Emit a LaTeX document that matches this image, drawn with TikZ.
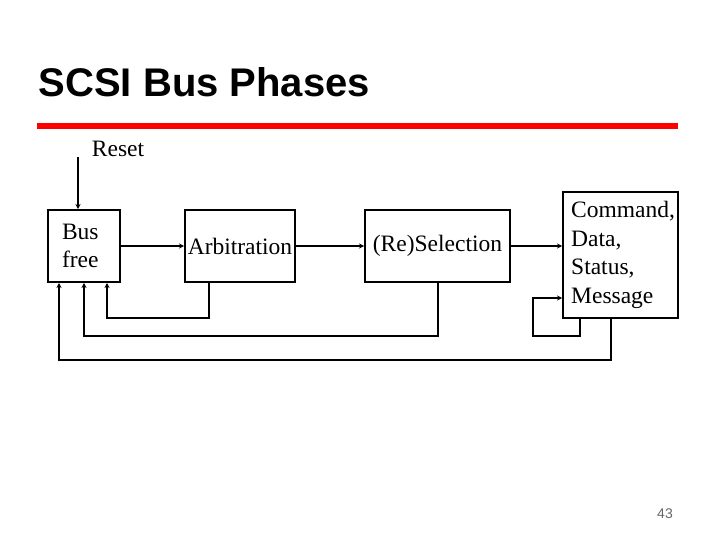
\documentclass[tikz,border=0pt]{standalone}
\usepackage{fontspec}
\setmainfont{Liberation Serif}
\newfontfamily\titlefont{Liberation Sans}
\usetikzlibrary{arrows.meta}
\tikzset{
  phase/.style={draw, line width=2pt, inner sep=0pt, font=\fontsize{23.5}{28.5}\selectfont},
  conn/.style={line width=2pt, -{Stealth[length=5pt,width=5pt]}},
  lbl/.style={inner sep=0pt, font=\fontsize{23.5}{28.5}\selectfont, align=left}
}
\begin{document}
\begin{tikzpicture}[x=1pt,y=-1pt]
\useasboundingbox (0,0) rectangle (720,540);
% title
\node[anchor=base west, inner sep=0pt, font=\titlefont\bfseries\fontsize{40}{44}\selectfont] (title) at (38.5,97) {SCSI Bus Phases};
\fill[red] (37,123) rectangle (678,129);
% boxes
\node[phase, minimum width=72, minimum height=72, text width=44, align=left, inner xsep=14] (bus) at (84,246) {Bus\\free};
\node[phase, minimum width=110, minimum height=72] (arb) at (240,246) {Arbitration};
\node[phase, minimum width=145, minimum height=72] (sel) at (437.5,246) {(Re)Selection};
\node[phase, minimum width=115, minimum height=126] (cmd) at (620.5,255) {};
\node[lbl, anchor=west] (cmdtext) at (571,255) {Command,\\Data,\\Status,\\Message};
% reset
\node[lbl, anchor=base] (reset) at (118,157) {Reset};
\coordinate (rtop) at (78,157);
\draw[conn] (rtop) -- (rtop |- bus.north);
% forward arrows
\draw[conn] (bus.east) -- (arb.west);
\draw[conn] (arb.east) -- (sel.west);
\draw[conn] (sel.east) -- (sel.east -| cmd.west);
% feedback
\draw[conn] ([xshift=25pt]arb.south west) -- ++(0,35) -| ([xshift=60pt]bus.south west);
\draw[conn] (sel.south) -- ++(0,53) -| (bus.south);
\draw[conn] ([xshift=49pt]cmd.south west) -- ++(0,41) -| ([xshift=12pt]bus.south west);
% self loop
\draw[conn] ([xshift=18pt]cmd.south west) -- ++(0,17) -- ++(-47,0) |- ([yshift=-43pt]cmd.west);
% page number
\node[inner sep=0pt, font=\titlefont\fontsize{14}{16}\selectfont, text=black!60] (pnum) at (665,514) {43};
\end{tikzpicture}
\end{document}
